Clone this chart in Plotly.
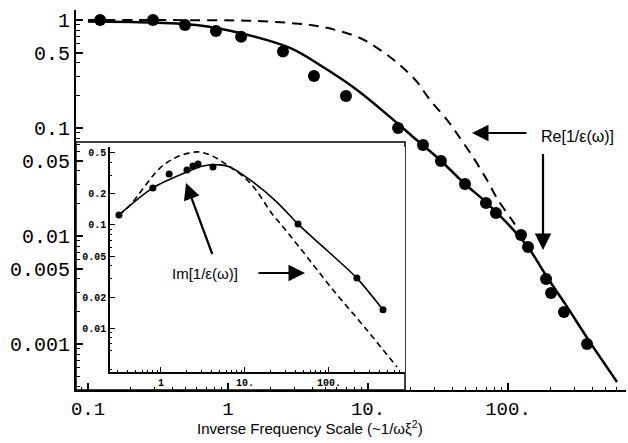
import plotly.graph_objects as go
import numpy as np

# ---------------- data ----------------
# Main panel: Re[1/eps(omega)]
re_pts_x = [0.122, 0.291, 0.493, 0.82, 1.24, 2.47, 4.11, 6.96, 16.4, 24.7, 33.2, 49.3,
            69.6, 82, 124, 139, 187, 203, 251, 367]
re_pts_y = [1.0, 1.0, 0.90, 0.79, 0.70, 0.51, 0.303, 0.198, 0.1, 0.0696, 0.0495, 0.0303,
            0.0202, 0.0163, 0.0102, 0.0079, 0.0040, 0.00297, 0.00198, 0.001]

re_fit_x = [0.1, 0.277, 0.631, 1.218, 2.77, 4.77, 8.35, 14.4, 21.0, 32.7, 49.3, 69.6,
            103, 139, 190, 259, 385, 601]
re_fit_y = [0.968, 0.948, 0.89, 0.758, 0.551, 0.367, 0.225, 0.126, 0.0826, 0.0506, 0.0303,
            0.0206, 0.0124, 0.0079, 0.00417, 0.0023, 0.00104, 0.000445]

re_dash_x = [0.1, 0.277, 0.631, 1.37, 2.77, 4.77, 8.77, 12.8, 16.9, 22.4, 27.7, 36.7, 45.4,
             56.2, 70.8, 84.8, 109, 130]
re_dash_y = [1.0, 1.0, 0.995, 0.985, 0.938, 0.861, 0.681, 0.506, 0.383, 0.267, 0.182, 0.119,
             0.0808, 0.0539, 0.033, 0.0216, 0.0135, 0.00958]

# Inset: Im[1/eps(omega)]
im_pts_x = [0.316, 0.80, 1.25, 2.04, 2.40, 2.76, 4.16, 42.8, 215, 440]
im_pts_y = [0.125, 0.229, 0.313, 0.342, 0.374, 0.391, 0.366, 0.102, 0.0305, 0.015]

im_fit_x = [0.316, 0.80, 2.04, 3.16, 5.04, 6.63, 11.5, 24.0, 42.8, 95, 215, 440]
im_fit_y = [0.125, 0.229, 0.327, 0.374, 0.383, 0.366, 0.274, 0.167, 0.102, 0.0565, 0.0305, 0.015]

im_dash_x = [0.316, 0.428, 0.973, 1.55, 2.68, 3.83, 6.1, 11.5, 21.5, 26.1, 45.2, 112, 283, 645]
im_dash_y = [0.125, 0.156, 0.357, 0.457, 0.512, 0.478, 0.383, 0.256, 0.125, 0.104, 0.0598,
             0.0234, 0.00957, 0.00418]

# tick labels
main_xticks = [0.1, 1, 10, 100]
main_xtext = ["0.1", "1", "10.", "100."]
main_yticks = [1, 0.5, 0.1, 0.05, 0.01, 0.005, 0.001]
main_ytext = ["1", "0.5", "0.1", "0.05", "0.01", "0.005", "0.001"]
ins_xticks = [1, 10, 100]
ins_xtext = ["1", "10.", "100."]
ins_yticks = [0.5, 0.2, 0.1, 0.05, 0.02, 0.01]
ins_ytext = ["0.5", "0.2", "0.1", "0.05", "0.02", "0.01"]

x_title = "Inverse Frequency Scale (~1/ωξ<sup>2</sup>)"
re_label = "Re[1/ε(ω)]"
im_label = "Im[1/ε(ω)]"

# ---------------- figure ----------------
W, H = 628, 443
ML, MR, MT, MB = 76, 2, 10, 53
PW, PH = W - ML - MR, H - MT - MB


def px(xp):
    return (xp - ML) / PW


def py(yp):
    return (H - MB - yp) / PH


def minor_vals(lo_exp, hi_exp, skip):
    vals = []
    for e in range(lo_exp, hi_exp + 1):
        for m in range(2, 10):
            v = m * 10.0 ** e
            if not any(abs(v - s) / s < 1e-6 for s in skip):
                vals.append(v)
    return vals


fig = go.Figure()

LC = "black"
fig.add_trace(go.Scatter(x=re_dash_x, y=re_dash_y, mode="lines", line_shape="spline",
                         line=dict(color=LC, width=2, dash="10px,7px"), showlegend=False))
fig.add_trace(go.Scatter(x=re_fit_x, y=re_fit_y, mode="lines", line_shape="spline",
                         line=dict(color=LC, width=2.5), showlegend=False))
fig.add_trace(go.Scatter(x=re_pts_x, y=re_pts_y, mode="markers",
                         marker=dict(color=LC, size=12), showlegend=False))

fig.add_trace(go.Scatter(x=im_dash_x, y=im_dash_y, mode="lines", line_shape="spline",
                         line=dict(color=LC, width=1.6, dash="6px,4px"), showlegend=False,
                         xaxis="x2", yaxis="y2"))
fig.add_trace(go.Scatter(x=im_fit_x, y=im_fit_y, mode="lines", line_shape="spline",
                         line=dict(color=LC, width=1.6, smoothing=0.8), showlegend=False,
                         xaxis="x2", yaxis="y2"))
fig.add_trace(go.Scatter(x=im_pts_x, y=im_pts_y, mode="markers",
                         marker=dict(color=LC, size=7), showlegend=False,
                         xaxis="x2", yaxis="y2"))

mono = "Liberation Mono"
sans = "Liberation Sans"

# inset pixel frame
IX0, IX1, IY0, IY1 = 110, 405, 147, 372

fig.update_layout(
    width=W, height=H,
    margin=dict(l=ML, r=MR, t=MT, b=MB),
    paper_bgcolor="white", plot_bgcolor="white",
    xaxis=dict(type="log", range=[-1.086, 2.843], showline=True, linecolor=LC, linewidth=2,
               ticks="inside", ticklen=7, tickwidth=1.5, tickcolor=LC,
               tickvals=main_xticks, ticktext=main_xtext,
               tickfont=dict(family=mono, size=19, color=LC),
               showgrid=False, zeroline=False,
               minor=dict(ticks="inside", ticklen=3.5, tickwidth=1, tickcolor=LC,
                          tickvals=minor_vals(-2, 2, []), showgrid=False)),
    yaxis=dict(type="log", range=[-3.426, 0.0926], showline=True, linecolor=LC, linewidth=2,
               ticks="inside", ticklen=7, tickwidth=1.5, tickcolor=LC,
               tickvals=main_yticks, ticktext=main_ytext,
               tickfont=dict(family=mono, size=20, color=LC),
               showgrid=False, zeroline=False,
               minor=dict(ticks="inside", ticklen=3.5, tickwidth=1, tickcolor=LC,
                          tickvals=minor_vals(-4, 0, [0.5, 0.05, 0.005]), showgrid=False)),
    xaxis2=dict(type="log", range=[-0.607, 2.905], domain=[px(IX0), px(IX1)], anchor="y2",
                showline=True, linecolor=LC, linewidth=1.5,
                ticks="inside", ticklen=5, tickwidth=1, tickcolor=LC,
                tickvals=ins_xticks, ticktext=ins_xtext,
                tickfont=dict(family=mono, size=10, color=LC, weight="bold"),
                showgrid=False, zeroline=False,
                minor=dict(ticks="inside", ticklen=2.5, tickwidth=0.8, tickcolor=LC,
                           tickvals=minor_vals(-1, 2, []), showgrid=False)),
    yaxis2=dict(type="log", range=[-2.427, -0.243], domain=[py(IY1), py(IY0)], anchor="x2",
                showline=True, linecolor=LC, linewidth=1.5,
                ticks="inside", ticklen=5, tickwidth=1, tickcolor=LC,
                tickvals=ins_yticks, ticktext=ins_ytext,
                tickfont=dict(family=mono, size=10, color=LC, weight="bold"),
                showgrid=False, zeroline=False,
                minor=dict(ticks="inside", ticklen=2.5, tickwidth=0.8, tickcolor=LC,
                           tickvals=minor_vals(-3, -1, [0.5, 0.2, 0.05, 0.02, 0.005]),
                           showgrid=False)),
    shapes=[
        dict(type="rect", xref="paper", yref="paper", x0=0, x1=px(IX1), y0=0, y1=py(142),
             fillcolor="white", line=dict(color=LC, width=1.5), layer="below"),
    ],
)


def arrow(head, tail, width=2.2, size=1.5):
    return dict(x=px(head[0]), y=py(head[1]), xref="paper", yref="paper",
                ax=tail[0] - head[0], ay=tail[1] - head[1], axref="pixel", ayref="pixel",
                text=" ", showarrow=True, arrowhead=2, arrowsize=size, arrowwidth=width,
                arrowcolor=LC, standoff=0, startstandoff=0, font=dict(size=1))


annotations = [
    dict(x=px(310), y=py(427), xref="paper", yref="paper", text=x_title, showarrow=False,
         font=dict(family=sans, size=15, color=LC), xanchor="center", yanchor="middle"),
    dict(x=px(577), y=py(136), xref="paper", yref="paper", text=re_label, showarrow=False,
         font=dict(family=sans, size=16, color=LC), xanchor="center", yanchor="middle"),
    dict(x=px(205), y=py(273), xref="paper", yref="paper", text=im_label, showarrow=False,
         font=dict(family=sans, size=15, color=LC), xanchor="center", yanchor="middle"),
    arrow((472, 133), (528, 133)),
    arrow((543, 250), (543, 152)),
    arrow((305, 273), (257, 273)),
    arrow((186, 183), (213, 256)),
]
fig.update_layout(annotations=annotations)

fig.write_html("out.html")
